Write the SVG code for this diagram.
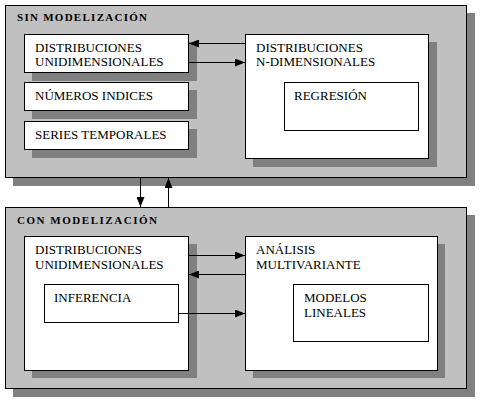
<svg xmlns="http://www.w3.org/2000/svg" width="483" height="401" viewBox="0 0 483 401">
<style>
.shadow{fill:#808080;stroke:none}
.outer{fill:#c0c0c0;stroke:#000;stroke-width:1}
.box{fill:#fff;stroke:#000;stroke-width:1}
text{font-family:'Liberation Serif','DejaVu Serif',serif;fill:#000}
.title{font-weight:bold;font-size:11px}
.lbl{font-size:13px}
.conn{stroke:#000;stroke-width:1;fill:none;marker-end:url(#ah)}
</style>
<defs>
<marker id="ah" markerUnits="userSpaceOnUse" markerWidth="10" markerHeight="8" refX="10" refY="4" orient="auto">
<path d="M0,0 L10,4 L0,8 z" fill="#000"/>
</marker>
</defs>
<rect width="483" height="401" fill="#fff"/>

<g id="sin-modelizacion">
<rect class="shadow" x="13" y="13" width="462" height="173"/>
<rect class="outer" x="5.5" y="5.5" width="461" height="172"/>
<text class="title" font-family="Liberation Serif, serif" x="17" y="21" textLength="130" lengthAdjust="spacing">SIN MODELIZACIÓN</text>
</g>

<g id="con-modelizacion">
<rect class="shadow" x="13" y="215" width="462" height="182"/>
<rect class="outer" x="5.5" y="207.5" width="461" height="181"/>
<text class="title" font-family="Liberation Serif, serif" x="17" y="224" textLength="140" lengthAdjust="spacing">CON MODELIZACIÓN</text>
</g>

<g id="du1">
<rect class="shadow" x="32" y="42" width="165" height="39"/>
<rect class="box" x="24.5" y="34.5" width="164" height="38"/>
<text class="lbl" font-family="Liberation Serif, serif" x="35" y="52">DISTRIBUCIONES</text>
<text class="lbl" font-family="Liberation Serif, serif" x="35" y="66">UNIDIMENSIONALES</text>
</g>

<g id="numeros">
<rect class="shadow" x="32" y="90" width="165" height="29"/>
<rect class="box" x="24.5" y="82.5" width="164" height="28"/>
<text class="lbl" font-family="Liberation Serif, serif" x="35" y="100">NÚMEROS INDICES</text>
</g>

<g id="series">
<rect class="shadow" x="32" y="129" width="165" height="29"/>
<rect class="box" x="24.5" y="121.5" width="164" height="28"/>
<text class="lbl" font-family="Liberation Serif, serif" x="35" y="139">SERIES TEMPORALES</text>
</g>

<g id="dn">
<rect class="shadow" x="253" y="42" width="184" height="125"/>
<rect class="box" x="245.5" y="34.5" width="183" height="124"/>
<text class="lbl" font-family="Liberation Serif, serif" x="256" y="52">DISTRIBUCIONES</text>
<text class="lbl" font-family="Liberation Serif, serif" x="256" y="66">N-DIMENSIONALES</text>
</g>

<g id="regresion">
<rect class="box" x="284.5" y="82.5" width="134" height="48"/>
<text class="lbl" font-family="Liberation Serif, serif" x="294" y="100">REGRESIÓN</text>
</g>

<g id="du2">
<rect class="shadow" x="32" y="244" width="165" height="134"/>
<rect class="box" x="24.5" y="236.5" width="164" height="134"/>
<text class="lbl" font-family="Liberation Serif, serif" x="35" y="254">DISTRIBUCIONES</text>
<text class="lbl" font-family="Liberation Serif, serif" x="35" y="269">UNIDIMENSIONALES</text>
</g>

<g id="inferencia">
<rect class="box" x="44.5" y="284.5" width="134" height="38"/>
<text class="lbl" font-family="Liberation Serif, serif" x="54" y="302">INFERENCIA</text>
</g>

<g id="am">
<rect class="shadow" x="253" y="244" width="192" height="134"/>
<rect class="box" x="245.5" y="236.5" width="192" height="134"/>
<text class="lbl" font-family="Liberation Serif, serif" x="256" y="254">ANÁLISIS</text>
<text class="lbl" font-family="Liberation Serif, serif" x="256" y="269">MULTIVARIANTE</text>
</g>

<g id="modelos">
<rect class="box" x="293.5" y="284.5" width="135" height="57"/>
<text class="lbl" font-family="Liberation Serif, serif" x="304" y="302">MODELOS</text>
<text class="lbl" font-family="Liberation Serif, serif" x="304" y="317">LINEALES</text>
</g>

<g id="connectors">
<line class="conn" x1="245" y1="43.5" x2="189" y2="43.5"/>
<line class="conn" x1="189" y1="62.5" x2="245" y2="62.5"/>
<line class="conn" x1="140.5" y1="178" x2="140.5" y2="207"/>
<line class="conn" x1="168.5" y1="207" x2="168.5" y2="178"/>
<line class="conn" x1="189" y1="255.5" x2="245" y2="255.5"/>
<line class="conn" x1="245" y1="274.5" x2="189" y2="274.5"/>
<line class="conn" x1="179" y1="313.5" x2="245" y2="313.5"/>
</g>
</svg>
